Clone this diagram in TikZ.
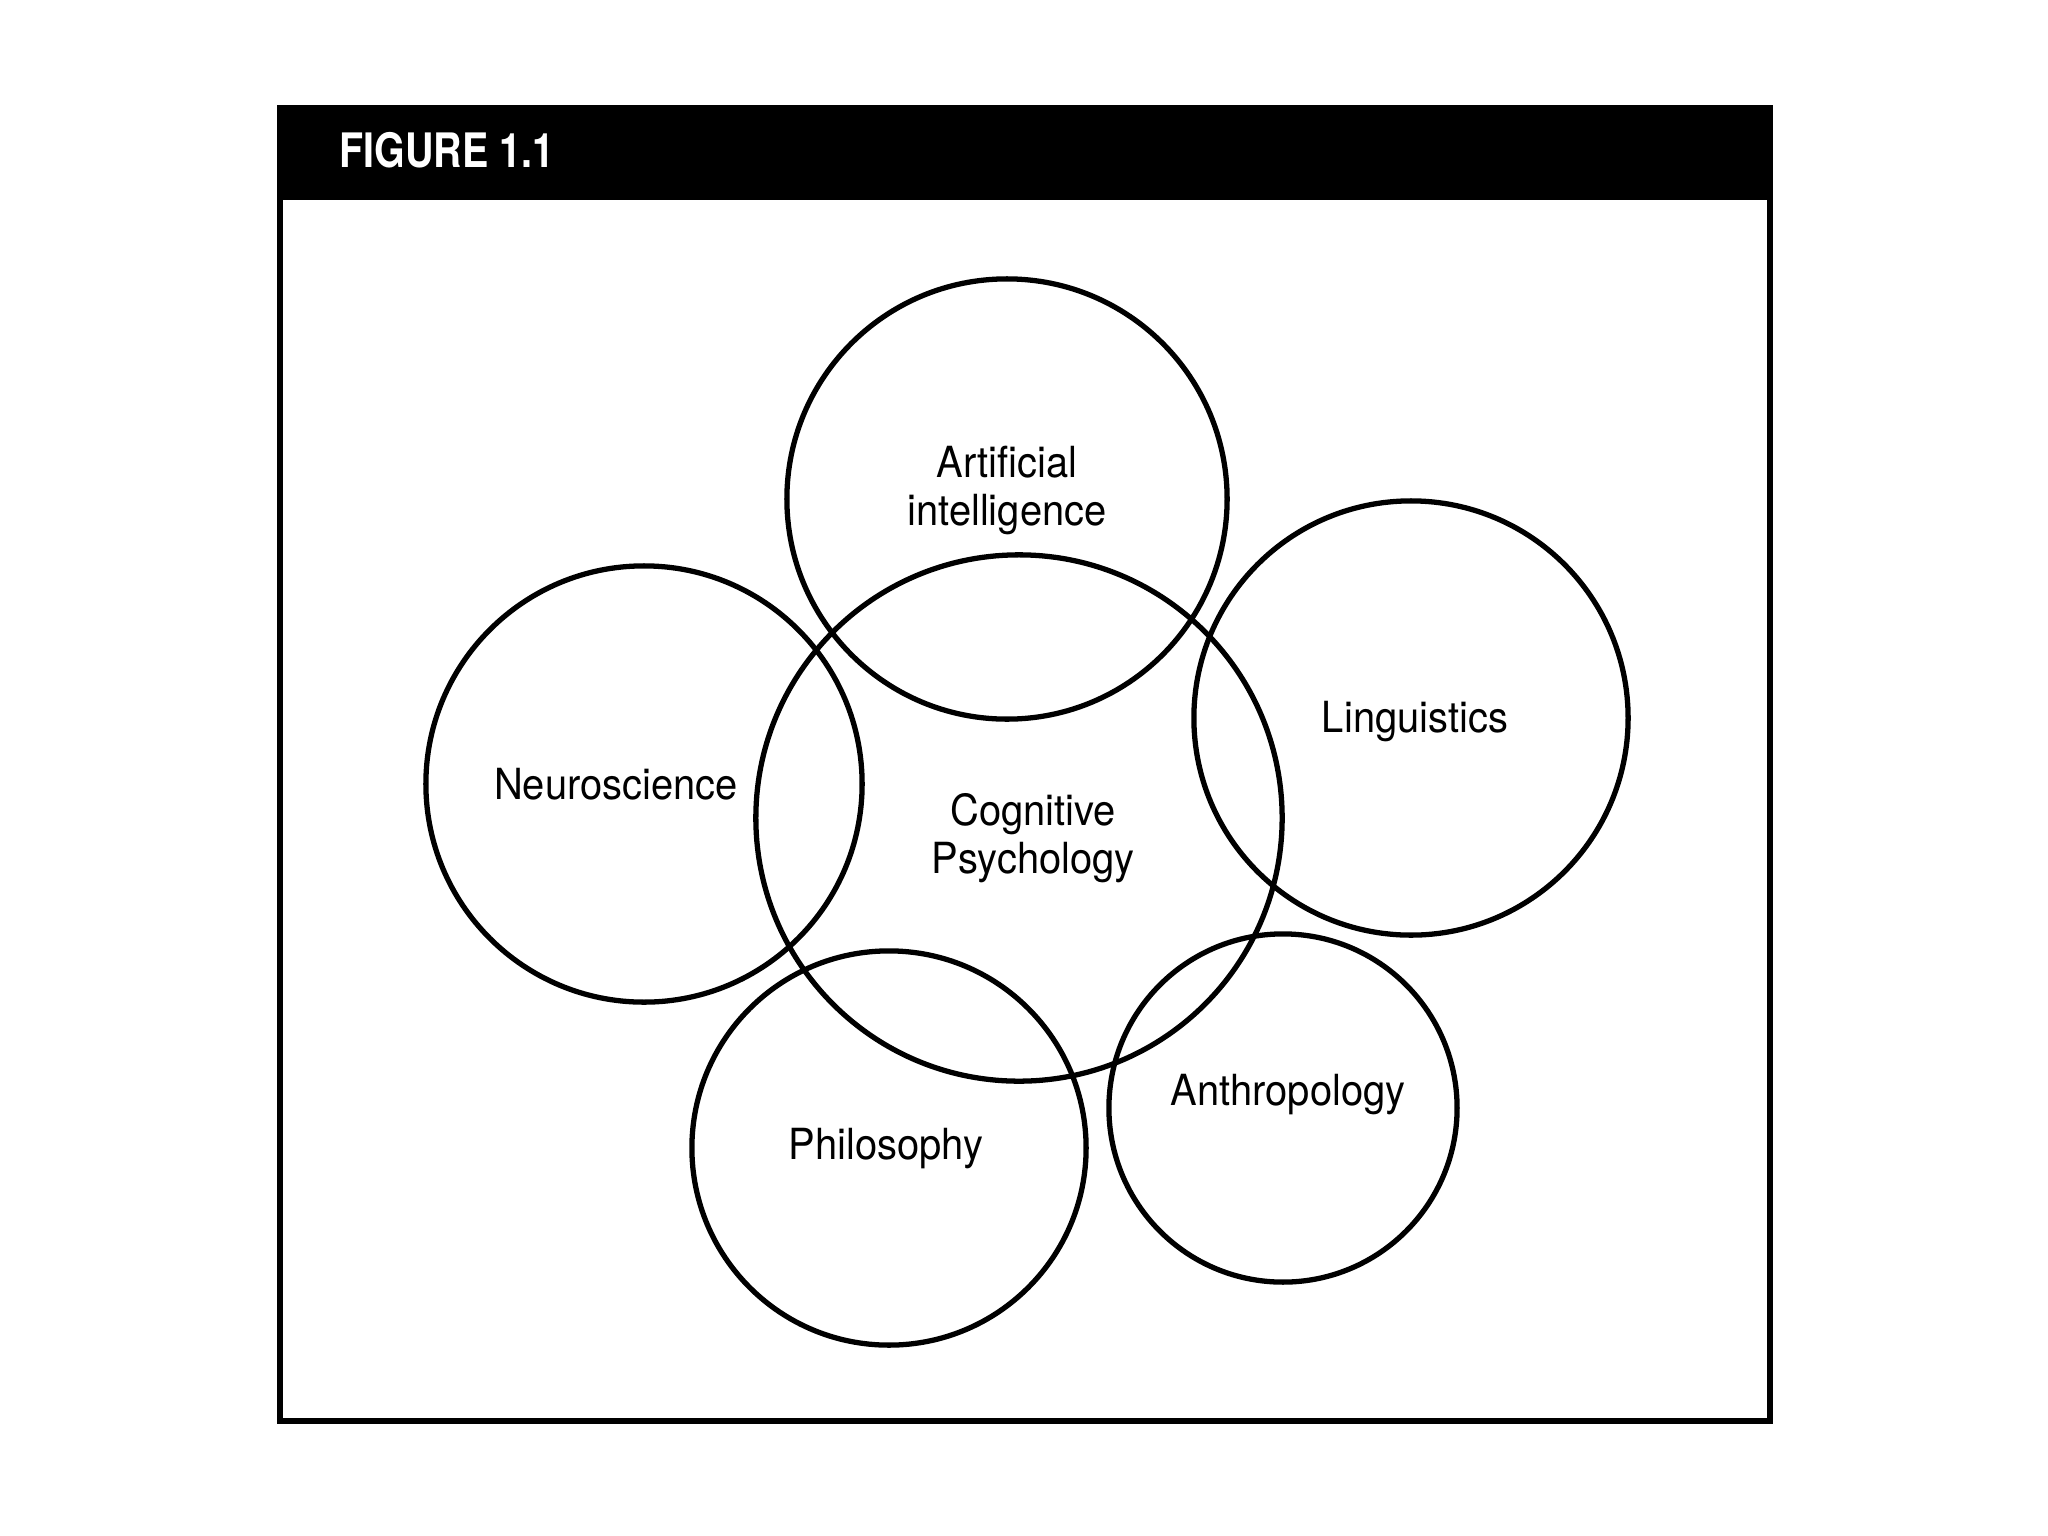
\documentclass[tikz,border=0pt]{standalone}
\usepackage{fontspec}
\setmainfont{TeX Gyre Heros}[FakeStretch=0.93]
\newfontfamily\headfont{TeX Gyre Heros}[FakeStretch=0.83]
\usetikzlibrary{positioning}
\tikzset{%
  every field/.style={
    circle,
    draw,
    line width=1.5pt,
    inner sep=0pt,
    minimum size=#1
  },
  field name/.style={
    align=center,
    anchor=base,
    inner sep=0pt,
    font=\fontsize{12.2pt}{13.6pt}\selectfont
  },
}

\begin{document}
\begin{tikzpicture}[x=0.01cm, y=-0.01cm]
\useasboundingbox (0,0) rectangle (2048,1536);
% frame and title bar
\draw[line width=1.85pt] (280,108) rectangle (1770,1421);
\fill (277,106) rectangle (1773,200);
\node[anchor=base west, inner sep=0pt, text=white,
      font=\headfont\bfseries\fontsize{13.5pt}{16pt}\selectfont] (title) at (339,167) {FIGURE 1.1};

% the six fields
\foreach \name/\x/\y/\d in {ai/1007/499/4.40cm, cog/1019/818/5.26cm, ling/1411/718/4.34cm,
                            neuro/644/784/4.36cm, phil/889/1148/3.94cm, anth/1283/1108/3.48cm}
    \node[every field=\d] (field_\name) at (\x,\y) {};

% labels (base = baseline of the last line)
\node[field name] (name_ai)    at (1007,525) {Artificial\\intelligence};
\node[field name] (name_cog)   at (1033,873) {Cognitive\\Psychology};
\node[field name] (name_ling)  at (1415,732) {Linguistics};
\node[field name] (name_neuro) at (616,799)  {Neuroscience};
\node[field name] (name_phil)  at (886,1159) {Philosophy};
\node[field name] (name_anth)  at (1288,1105) {Anthropology};
\end{tikzpicture}
\end{document}
